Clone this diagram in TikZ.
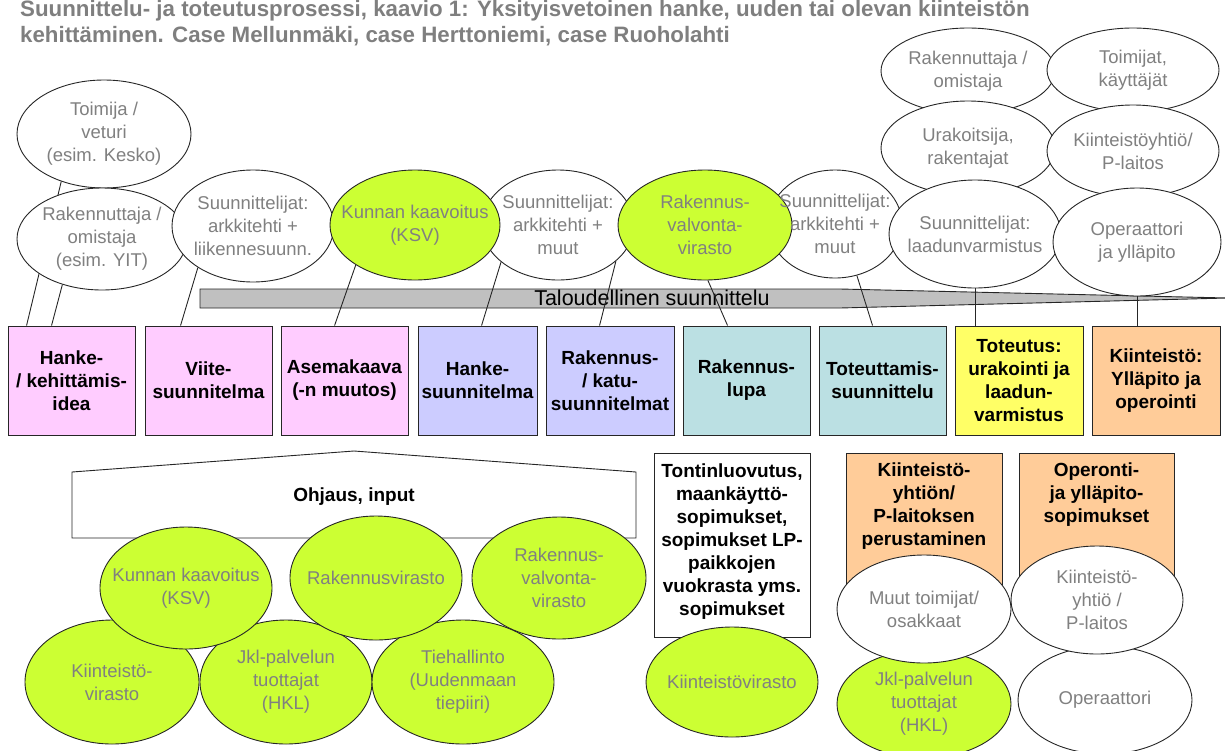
\documentclass[tikz,border=0pt]{standalone}
\usepackage{fontspec}
\setmainfont{Liberation Sans}
\usetikzlibrary{shapes.geometric,calc}
\pgfdeclarelayer{bg}
\pgfdeclarelayer{fg}
\pgfsetlayers{bg,main,fg}
\definecolor{cGreen}{HTML}{CCFF33}
\definecolor{cPink}{HTML}{FFCCFF}
\definecolor{cLav}{HTML}{CCCCFF}
\definecolor{cTeal}{HTML}{BBE0E3}
\definecolor{cYellow}{HTML}{FFFF66}
\definecolor{cOrange}{HTML}{FFCC99}
\definecolor{cBand}{HTML}{C0C0C0}
\definecolor{cText}{HTML}{808080}
\definecolor{cTitle}{HTML}{7F7F7F}
\definecolor{cLine}{HTML}{262626}
\tikzset{
  ell/.style={ellipse, draw=cLine, line width=0.9pt, fill=white, inner sep=0pt},
  grn/.style={ell, fill=cGreen},
  etext/.style={align=center, text=cText, font=\fontsize{18.5}{23}\selectfont, inner sep=0pt},
  boxnode/.style={rectangle, draw=cLine, line width=0.9pt, inner sep=0pt, align=center, font=\bfseries\fontsize{19}{23}\selectfont},
  btext/.style={align=center, inner sep=0pt, font=\bfseries\fontsize{19}{23}\selectfont},
  conn/.style={draw=cLine, line width=0.9pt},
  titletext/.style={anchor=base west, inner sep=0pt, text=cTitle, font=\bfseries\fontsize{22.3}{26}\selectfont},
}
\newcommand\Ell[7]{%
  \node[#1, minimum width={2*#5pt}, minimum height={2*#6pt}] (#2) at (#3,#4) {};
  \begin{pgfonlayer}{fg}\node[etext] (#2t) at (#2.center) {#7};\end{pgfonlayer}}
\newcommand\Bx[7]{%
  \node[boxnode, fill=#2, minimum width=#5pt, minimum height=#6pt] (#1) at (#3,#4) {#7};}
\begin{document}
\begin{tikzpicture}[x=1pt,y=-1pt]
\useasboundingbox (0,0) rectangle (1225,750);
% title
\node[titletext] (title1) at (20,16) {Suunnittelu- ja toteutusprosessi, kaavio 1: Yksityisvetoinen hanke, uuden tai olevan kiinteistön};
\node[titletext] (title2) at (20,42) {kehittäminen. Case Mellunmäki, case Herttoniemi, case Ruoholahti};

% boxes row
\Bx{b1}{cPink}{71.5}{380.5}{127}{109}{Hanke-\\/ kehittämis-\\idea}
\Bx{b2}{cPink}{208.5}{380.5}{127}{109}{Viite-\\suunnitelma}
\Bx{b3}{cPink}{344.5}{380.5}{127}{109}{Asemakaava\\(-n muutos)}
\Bx{b4}{cLav}{477.5}{380.5}{119}{109}{Hanke-\\suunnitelma}
\Bx{b5}{cLav}{610}{380.5}{128}{109}{Rakennus-\\/ katu-\\suunnitelmat}
\Bx{b6}{cTeal}{746.5}{380.5}{127}{109}{Rakennus-\\lupa}
\Bx{b7}{cTeal}{882.5}{380.5}{127}{109}{Toteuttamis-\\suunnittelu}
\Bx{b8}{cYellow}{1019}{380.5}{128}{109}{Toteutus:\\urakointi ja\\laadun-\\varmistus}
\Bx{b9}{cOrange}{1156}{380.5}{128}{109}{Kiinteistö:\\Ylläpito ja\\operointi}

% top ellipses, left part
\Ell{ell}{toimija}{104}{134}{87}{54}{Toimija /\\veturi\\(esim. Kesko)}
\Ell{ell}{rak1}{102}{239}{85}{51}{Rakennuttaja /\\omistaja\\(esim. YIT)}
\Ell{ell}{suun1}{253}{226}{81}{56}{Suunnittelijat:\\arkkitehti +\\liikennesuunn.}
\Ell{ell}{suun2}{558}{225}{76}{55}{Suunnittelijat:\\arkkitehti +\\muut}
\Ell{grn}{ksv1}{415}{225}{85}{55}{Kunnan kaavoitus\\(KSV)}
\Ell{ell}{suun3}{835}{224}{67}{54}{Suunnittelijat:\\arkkitehti +\\muut}
\Ell{grn}{rvv1}{705}{225}{87}{55}{Rakennus-\\valvonta-\\virasto}
% top ellipses, right cluster
\Ell{ell}{rak2}{968}{71}{87}{43}{Rakennuttaja /\\omistaja}
\Ell{ell}{toim2}{1133}{70}{86}{42}{Toimijat,\\käyttäjät}
\Ell{ell}{urak}{968}{148}{87}{47}{Urakoitsija,\\rakentajat}
\Ell{ell}{kyh1}{1133}{151}{86}{46}{Kiinteistöyhtiö/\\P-laitos}
\Ell{ell}{laatu}{975}{234}{86}{54}{Suunnittelijat:\\laadunvarmistus}
\Ell{ell}{opyl}{1137}{242}{84}{54}{Operaattori\\ja ylläpito}

% band and connectors (background)
\begin{pgfonlayer}{bg}
\draw[fill=cBand, draw=cLine, line width=0.9pt] (200,289) -- (840,289) -- (1228,298) -- (840,308) -- (200,308) -- cycle;
\node[inner sep=0pt, font=\fontsize{21.5}{24}\selectfont] (talous) at (652,298) {Taloudellinen suunnittelu};
\draw[conn] (toimija.228) -- ([xshift=19pt]b1.north west);
\draw[conn] (rak1.229) -- ([xshift=44pt]b1.north west);
\draw[conn] (suun1.217) -- ([xshift=36pt]b2.north west);
\draw[conn] (ksv1.214) -- ([xshift=54pt]b3.north west);
\draw[conn] (suun2.213) -- ([xshift=64pt]b4.north west);
\draw[conn] (suun2.328) -- ([xshift=54pt]b5.north west);
\draw[conn] (rvv1.273) -- ([xshift=45pt]b6.north west);
\draw[conn] (suun3.293) -- ([xshift=54pt]b7.north west);
\draw[conn] (laatu.south) -- (laatu.south |- b8.north);
\draw[conn] (opyl.south) -- (opyl.south |- b9.north);
\end{pgfonlayer}

% Ohjaus, input
\draw[fill=white, draw=cLine, line width=0.9pt] (72,538) -- (72,472) -- (354,451) -- (636,472) -- (636,538) -- cycle;
\node[btext] (ohjaus) at (354,497) {Ohjaus, input};
\Ell{grn}{kiv}{112}{682}{87}{62}{Kiinteistö-\\virasto}
\Ell{grn}{jkl1}{286}{682}{86}{62}{Jkl-palvelun\\tuottajat\\(HKL)}
\Ell{grn}{tie}{463}{682}{91}{62}{Tiehallinto\\(Uudenmaan\\tiepiiri)}
\Ell{grn}{ksv2}{186}{588}{86}{61}{Kunnan kaavoitus\\(KSV)}
\Ell{grn}{rvi}{376}{578}{86}{62}{Rakennusvirasto}
\Ell{grn}{rvv2}{559}{578}{87}{61}{Rakennus-\\valvonta-\\virasto}

% lower right
\Bx{tont}{white}{732}{545}{156}{184}{}
\node[btext, anchor=north] (tontt) at ([yshift=-11pt]tont.north) {Tontinluovutus,\\maankäyttö-\\sopimukset,\\sopimukset LP-\\paikkojen\\vuokrasta yms.\\sopimukset};
\Ell{grn}{kv2}{732}{682}{86}{55}{Kiinteistövirasto}
\Bx{ob1}{cOrange}{924}{520.5}{156}{135}{}
\Ell{grn}{jkl2}{924}{704}{87}{54}{Jkl-palvelun\\tuottajat\\(HKL)}
\Ell{ell}{muut}{924}{609}{87}{54}{Muut toimijat/\\osakkaat}
\Bx{ob2}{cOrange}{1096.5}{520.5}{155}{135}{}
\Ell{ell}{oper}{1105}{700}{87}{54}{Operaattori}
\Ell{ell}{kyh2}{1097}{600}{86}{54}{Kiinteistö-\\yhtiö /\\P-laitos}
\begin{pgfonlayer}{fg}
\node[btext, anchor=north] (ob1t) at ([yshift=-10pt]ob1.north) {Kiinteistö-\\yhtiön/\\P-laitoksen\\perustaminen};
\node[btext, anchor=north] (ob2t) at ([yshift=-10pt]ob2.north) {Operonti-\\ja ylläpito-\\sopimukset};
\end{pgfonlayer}
\end{tikzpicture}
\end{document}
